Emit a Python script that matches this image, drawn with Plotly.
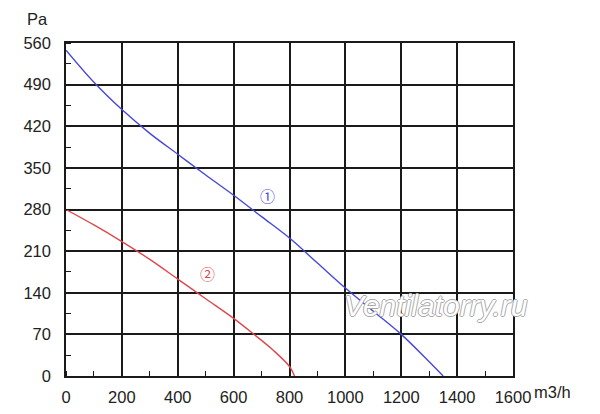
import plotly.graph_objects as go

# curve 1 (blue) and curve 2 (red)
flow_1 = [0, 100, 200, 300, 400, 500, 600, 700, 800, 900, 1000, 1100, 1200, 1300, 1350]
pres_1 = [548, 494, 448, 408, 373, 338, 304, 268, 232, 190, 148, 109, 70, 24, 0]

flow_2 = [0, 100, 200, 300, 400, 500, 600, 673, 740, 800, 818]
pres_2 = [280, 254, 226, 196, 163, 130, 97, 70, 44, 16, 0]

x_ticks = [0, 200, 400, 600, 800, 1000, 1200, 1400, 1600]
y_ticks = [0, 70, 140, 210, 280, 350, 420, 490, 560]

font = dict(family='Liberation Sans, Arial', size=16.5, color='#222222')

fig = go.Figure()
fig.add_trace(go.Scatter(x=flow_1, y=pres_1, mode='lines', line=dict(color='#4848d8', width=1.4,
                                                                       shape='spline'), showlegend=False))
fig.add_trace(go.Scatter(x=flow_2, y=pres_2, mode='lines', line=dict(color='#e0474c', width=1.4,
                                                                       shape='spline'), showlegend=False))

axis = dict(showgrid=True, gridcolor='#1a1a1a', gridwidth=1.5, showline=True, linecolor='#1a1a1a',
            linewidth=1.5, mirror=True, zeroline=False, ticks='', tickfont=font, automargin=False)
fig.update_xaxes(range=[0, 1600], tickvals=x_ticks, ticklabelstandoff=5,
                 minor=dict(ticks='inside', ticklen=5, tickcolor='#1a1a1a', dtick=100, showgrid=False),
                 **axis)
fig.update_yaxes(range=[0, 560], tickvals=y_ticks, ticklabelstandoff=10,
                 minor=dict(ticks='inside', ticklen=5, tickcolor='#1a1a1a', dtick=35, showgrid=False),
                 **axis)

fig.add_annotation(x=723, y=304, text='①', showarrow=False,
                   font=dict(family='Noto Sans CJK SC', size=15, color='#4848d8'))
fig.add_annotation(x=505, y=172, text='②', showarrow=False,
                   font=dict(family='Noto Sans CJK SC', size=15, color='#e0474c'))
fig.add_annotation(x=1325, y=119, text='<i>Ventilatorry.ru</i>', showarrow=False,
                   font=dict(family='Liberation Sans, Arial', size=30, color='white',
                             shadow='1px 0 0 #a8a8a8, -1px 0 0 #a8a8a8, 0 1px 0 #a8a8a8, 0 -1px 0 #a8a8a8'))
fig.add_annotation(xref='paper', yref='paper', x=0, y=1, xanchor='center', yanchor='middle',
                   xshift=-29, yshift=24, text='Pa', showarrow=False, font=font)
fig.add_annotation(xref='paper', yref='paper', x=1, y=0, xanchor='left', yanchor='middle',
                   xshift=19, yshift=-16, text='m3/h', showarrow=False, font=font)

# page body adds 8px offset, so margins are shifted to keep the plot box where it is in the picture
fig.update_layout(width=600, height=414, margin=dict(l=58, r=95, t=35, b=46),
                  plot_bgcolor='white', paper_bgcolor='white')
fig.write_html('out.html')
